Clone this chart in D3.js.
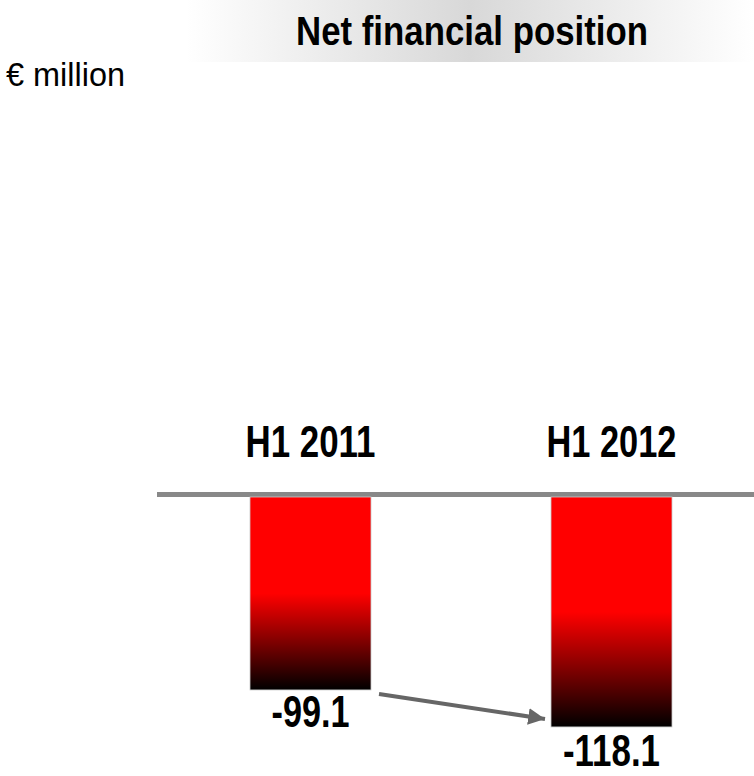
<!DOCTYPE html>
<html>
<head>
<meta charset="utf-8">
<script src="https://cdn.jsdelivr.net/npm/d3@7"></script>
<style>
  html, body { margin: 0; padding: 0; background: #fff; }
  svg { display: block; }
  text { font-family: "Liberation Sans", Arial, sans-serif; }
</style>
</head>
<body>
<svg id="chart" width="754" height="776"></svg>
<script>
// Net financial position, € million
const categories = ["H1 2011", "H1 2012"];
const values = [-99.1, -118.1];
const valueLabels = ["-99.1", "-118.1"];
const titleText = "Net financial position";
const unitText = "€ million";

const W = 754, H = 776;
const svg = d3.select("#chart");
const defs = svg.append("defs");

// Title band: soft grey horizontal fade
const titleGrad = defs.append("linearGradient")
  .attr("id", "titleGrad").attr("x1", "0%").attr("x2", "100%").attr("y1", "0%").attr("y2", "0%");
titleGrad.append("stop").attr("offset", "0%").attr("stop-color", "#ffffff");
titleGrad.append("stop").attr("offset", "50%").attr("stop-color", "#d8d8d8");
titleGrad.append("stop").attr("offset", "100%").attr("stop-color", "#ffffff");

// Bars: red on the upper half, fading to black at the bottom
const barGrad = defs.append("linearGradient")
  .attr("id", "barGrad").attr("x1", "0%").attr("x2", "0%").attr("y1", "0%").attr("y2", "100%");
barGrad.append("stop").attr("offset", "0%").attr("stop-color", "#ff0000");
barGrad.append("stop").attr("offset", "50%").attr("stop-color", "#ff0000");
barGrad.append("stop").attr("offset", "100%").attr("stop-color", "#000000");

defs.append("marker")
  .attr("id", "arrowHead")
  .attr("viewBox", "0 0 10 10")
  .attr("refX", 10).attr("refY", 5)
  .attr("markerWidth", 4.2).attr("markerHeight", 4.2)
  .attr("markerUnits", "strokeWidth")
  .attr("orient", "auto")
  .append("path").attr("d", "M0,0 L10,5 L0,10 Z").attr("fill", "#666");

svg.append("rect")
  .attr("x", 186).attr("y", 0).attr("width", W - 186).attr("height", 62)
  .attr("fill", "url(#titleGrad)");

svg.append("text")
  .attr("x", 472).attr("y", 45)
  .attr("text-anchor", "middle")
  .attr("font-size", 40).attr("font-weight", "bold")
  .attr("textLength", 352).attr("lengthAdjust", "spacingAndGlyphs")
  .attr("fill", "#000")
  .text(titleText);

svg.append("text")
  .attr("x", 6).attr("y", 86)
  .attr("font-size", 33)
  .attr("textLength", 119).attr("lengthAdjust", "spacingAndGlyphs")
  .attr("fill", "#000")
  .text(unitText);

// Scales
const x = d3.scaleBand()
  .domain(categories)
  .range([250, 672])
  .paddingInner(0.598)
  .paddingOuter(0);

const y = d3.scaleLinear()
  .domain([0, -130])
  .range([497, 497 + 130 * 1.947]);

// Category labels above the zero line
svg.append("g").selectAll("text")
  .data(categories)
  .join("text")
  .attr("x", d => x(d) + x.bandwidth() / 2)
  .attr("y", 457)
  .attr("text-anchor", "middle")
  .attr("font-size", 44).attr("font-weight", "bold")
  .attr("textLength", 130).attr("lengthAdjust", "spacingAndGlyphs")
  .text(d => d);

// Zero line
svg.append("line")
  .attr("x1", 157).attr("x2", W)
  .attr("y1", y(0) - 2.5).attr("y2", y(0) - 2.5)
  .attr("stroke", "#888").attr("stroke-width", 5);

// Bars
svg.append("g").selectAll("rect")
  .data(values)
  .join("rect")
  .attr("x", (d, i) => x(categories[i]))
  .attr("y", y(0))
  .attr("width", x.bandwidth())
  .attr("height", d => y(d) - y(0))
  .attr("fill", "url(#barGrad)")
  .attr("stroke", "#c8c8c8").attr("stroke-width", 0.8);

// Value labels below the bars
const labelOffset = [37, 39];
const labelWidth = [78, 97];
svg.append("g").selectAll("text")
  .data(values)
  .join("text")
  .attr("x", (d, i) => x(categories[i]) + x.bandwidth() / 2)
  .attr("y", (d, i) => y(d) + labelOffset[i])
  .attr("text-anchor", "middle")
  .attr("font-size", 44).attr("font-weight", "bold")
  .attr("textLength", (d, i) => labelWidth[i]).attr("lengthAdjust", "spacingAndGlyphs")
  .text((d, i) => valueLabels[i]);

// Change arrow from the first bar to the second
const x0 = x(categories[0]) + x.bandwidth() + 8;
const y0 = y(values[0]) + 4;
const x1 = x(categories[1]) - 6;
const y1 = y(values[1]) - 8;
svg.append("line")
  .attr("x1", x0).attr("y1", y0)
  .attr("x2", x1).attr("y2", y1)
  .attr("stroke", "#666").attr("stroke-width", 4)
  .attr("marker-end", "url(#arrowHead)");
</script>
</body>
</html>
